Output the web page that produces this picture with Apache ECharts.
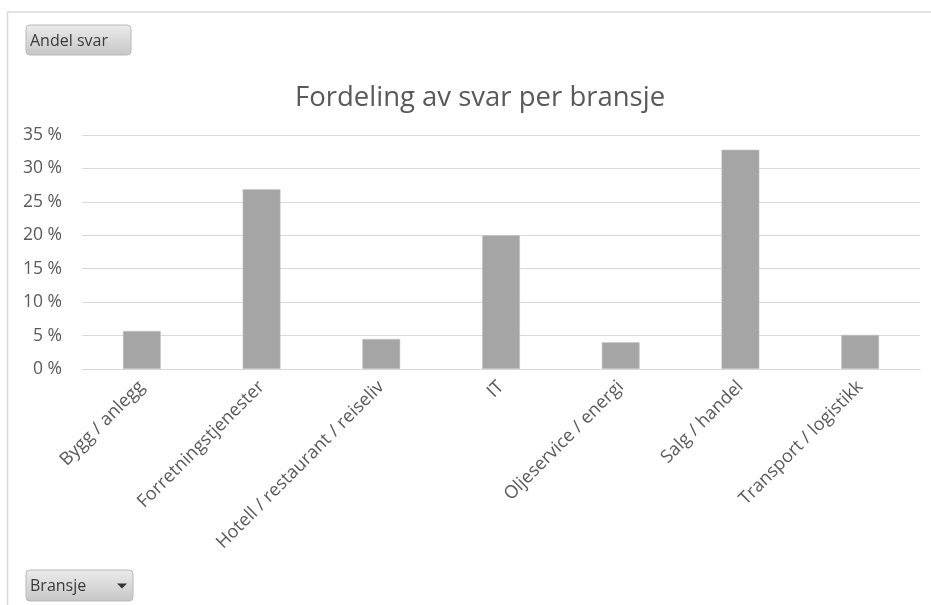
<!DOCTYPE html>
<html>
<head>
<meta charset="utf-8">
<script src="https://cdn.jsdelivr.net/npm/echarts@6/dist/echarts.min.js"></script>
<style>
  html, body { margin: 0; padding: 0; background: #fff; }
  #chart { width: 931px; height: 605px; }
</style>
</head>
<body>
<div id="chart"></div>
<script>
const categories = [
  "Bygg / anlegg",
  "Forretningstjenester",
  "Hotell / restaurant / reiseliv",
  "IT",
  "Oljeservice / energi",
  "Salg / handel",
  "Transport / logistikk",
];
const shares = [5.7, 26.9, 4.5, 20.0, 4.0, 32.8, 5.1];
const yTicks = { min: 0, max: 35, interval: 5 };

const font = "'Open Sans', 'Noto Sans', sans-serif";
const textGray = "#595959";

const chart = echarts.init(document.getElementById("chart"), null, { renderer: "canvas" });

// small pivot-style field button
function button(x, y, w, h, label, arrow) {
  const children = [
    {
      type: "rect",
      shape: { x: 0, y: 0, width: w, height: h, r: 4 },
      style: {
        fill: {
          type: "linear", x: 0, y: 0, x2: 0, y2: 1,
          colorStops: [
            { offset: 0, color: "#ececec" },
            { offset: 1, color: "#c6c6c6" },
          ],
        },
        stroke: "#b8b8b8", lineWidth: 1,
      },
    },
    {
      type: "text",
      style: { x: 4, y: h / 2 + 1, text: label, fill: "#3a3a3a", font: "16px " + font, verticalAlign: "middle" },
    },
  ];
  if (arrow) {
    children.push({
      type: "polygon",
      shape: { points: [[w - 16, h / 2 - 2], [w - 6, h / 2 - 2], [w - 11, h / 2 + 3]] },
      style: { fill: "#333" },
    });
  }
  return { type: "group", x, y, children };
}

chart.setOption({
  animation: false,
  backgroundColor: "#fff",
  title: {
    text: "Fordeling av svar per bransje",
    left: 290, top: 79,
    textStyle: { fontFamily: font, fontSize: 27.5, fontWeight: "normal", color: textGray },
  },
  grid: { left: 82, right: 11, top: 135, bottom: 236, containLabel: false },
  xAxis: {
    type: "category",
    data: categories,
    axisTick: { show: false },
    axisLine: { lineStyle: { color: "#d9d9d9", width: 1 } },
    axisLabel: {
      rotate: 45, interval: 0, margin: 15,
      color: textGray, fontFamily: font, fontSize: 18,
    },
  },
  yAxis: {
    type: "value",
    min: yTicks.min, max: yTicks.max, interval: yTicks.interval,
    axisLine: { show: false },
    axisTick: { show: false },
    splitLine: { lineStyle: { color: "#d9d9d9", width: 1 } },
    axisLabel: {
      margin: 20, color: textGray, fontFamily: font, fontSize: 17.5,
      formatter: (v) => v + " %",
    },
  },
  series: [{
    type: "bar",
    data: shares,
    barWidth: "31.6%",
    itemStyle: { color: "#a5a5a5", borderColor: "#c8c8c8", borderWidth: 0.5 },
  }],
  graphic: [
    {
      type: "polyline",
      shape: { points: [[7.5, 605], [7.5, 12], [931, 12]] },
      style: { stroke: "#d9d9d9", lineWidth: 1.5, fill: null },
    },
    button(26, 25, 105, 30, "Andel svar", false),
    button(26, 570, 107, 31, "Bransje", true),
  ],
});
</script>
</body>
</html>
